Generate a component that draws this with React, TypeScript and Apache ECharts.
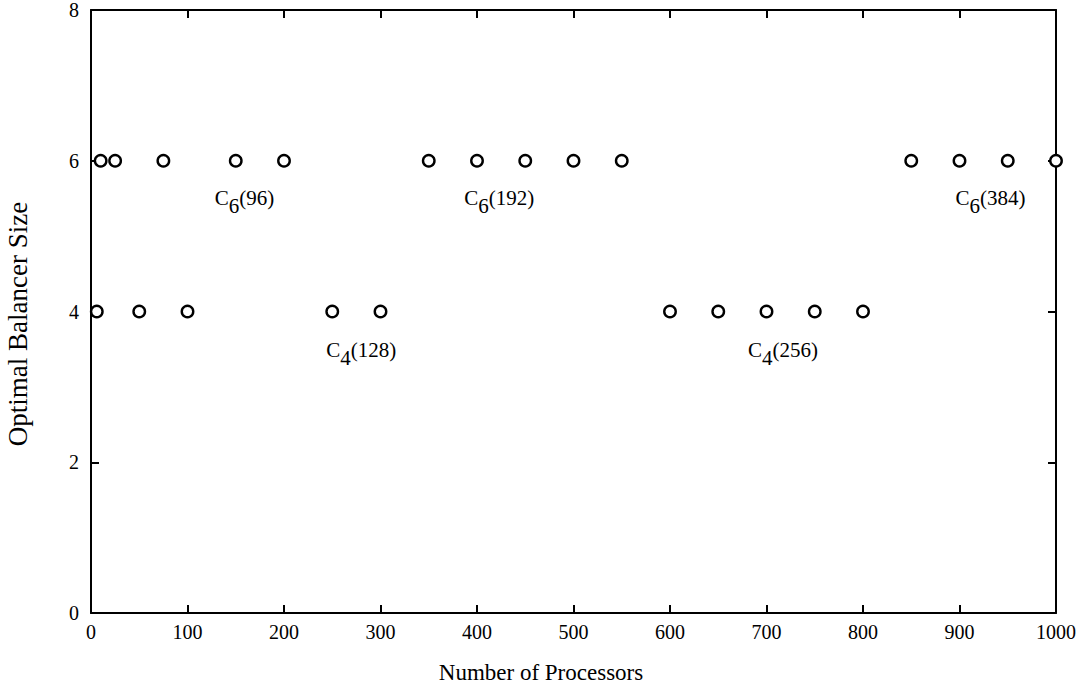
import React, { useEffect, useRef } from "react";
import * as echarts from "echarts";

const processors = [6, 10, 25, 50, 75, 100, 150, 200, 250, 300, 350, 400, 450, 500, 550, 600, 650, 700, 750, 800, 850, 900, 950, 1000];
const balancerSize = [4, 6, 6, 4, 6, 4, 6, 6, 4, 4, 6, 6, 6, 6, 6, 4, 4, 4, 4, 4, 6, 6, 6, 6];

const annotationNames = ["C", "C", "C", "C", "C"];
const annotationSubs = ["6", "4", "6", "4", "6"];
const annotationArgs = ["(96)", "(128)", "(192)", "(256)", "(384)"];
const annotationX = [159, 280, 423, 717, 932];
const annotationY = [5.5, 3.49, 5.5, 3.49, 5.5];

const FONT = "'Liberation Serif', 'Times New Roman', serif";
const ANN_SIZE = 21;

const mkLine = () => ({ show: true, onZero: false, lineStyle: { color: "#000", width: 2 } });
const mkTick = () => ({ show: true, inside: true, length: 8, lineStyle: { color: "#000", width: 2 } });

function measure(text: string, size: number): number {
  const c = document.createElement("canvas").getContext("2d");
  if (!c) return text.length * size * 0.5;
  c.font = `${size}px ${FONT}`;
  return c.measureText(text).width;
}

export default function App() {
  const ref = useRef<HTMLDivElement>(null);
  useEffect(() => {
    if (!ref.current) return;
    const chart = echarts.init(ref.current, undefined, { renderer: "svg" });
    chart.setOption({
      animation: false,
      backgroundColor: "#fff",
      grid: { left: 91, right: 25, top: 7, bottom: 72, containLabel: false },
      xAxis: [
        {
          type: "value", min: 0, max: 1000, interval: 100, position: "bottom",
          axisLine: mkLine(), axisTick: mkTick(), splitLine: { show: false },
          axisLabel: { color: "#000", fontFamily: FONT, fontSize: 20, margin: 9, formatter: (v: number) => String(v) },
        },
        {
          type: "value", min: 0, max: 1000, interval: 100, position: "top",
          axisLine: mkLine(), axisTick: mkTick(), splitLine: { show: false }, axisLabel: { show: false },
        },
      ],
      yAxis: [
        {
          type: "value", min: 0, max: 8, interval: 2, position: "left",
          axisLine: mkLine(), axisTick: mkTick(), splitLine: { show: false },
          axisLabel: { color: "#000", fontFamily: FONT, fontSize: 20, margin: 12, formatter: (v: number) => String(v) },
        },
        {
          type: "value", min: 0, max: 8, interval: 2, position: "right",
          axisLine: mkLine(), axisTick: mkTick(), splitLine: { show: false }, axisLabel: { show: false },
        },
      ],
      series: [
        {
          type: "scatter",
          xAxisIndex: 0, yAxisIndex: 0,
          clip: false,
          symbol: "circle",
          symbolSize: 11.5,
          itemStyle: { color: "#fff", borderColor: "#000", borderWidth: 2.4, opacity: 1 },
          data: processors.map((p, i) => [p, balancerSize[i]]),
          z: 5,
        },
      ],
    });

    const elements: any[] = [
      {
        type: "text", x: 541, y: 672,
        style: { text: "Number of Processors", fontFamily: FONT, fontSize: 23, fill: "#000", align: "center", verticalAlign: "middle" },
      },
      {
        type: "text", x: 18, y: 324, rotation: Math.PI / 2,
        style: { text: "Optimal Balancer Size", fontFamily: FONT, fontSize: 27, fill: "#000", align: "center", verticalAlign: "middle" },
      },
    ];
    annotationX.forEach((ax, i) => {
      const pt = chart.convertToPixel({ xAxisIndex: 0, yAxisIndex: 0 }, [ax, annotationY[i]]) as number[];
      const wN = measure(annotationNames[i], ANN_SIZE);
      const wS = measure(annotationSubs[i], ANN_SIZE);
      const wA = measure(annotationArgs[i], ANN_SIZE);
      const left = pt[0] - (wN + wS + wA) / 2;
      const base = { fontFamily: FONT, fontSize: ANN_SIZE, fill: "#000", align: "left", verticalAlign: "middle" };
      elements.push(
        { type: "text", x: left, y: pt[1], style: { ...base, text: annotationNames[i] } },
        { type: "text", x: left + wN, y: pt[1] + 8, style: { ...base, text: annotationSubs[i] } },
        { type: "text", x: left + wN + wS, y: pt[1], style: { ...base, text: annotationArgs[i] } },
      );
    });
    chart.setOption({ graphic: { elements } });
    return () => chart.dispose();
  }, []);
  return <div ref={ref} style={{ position: "fixed", left: 0, top: 0, width: 1081, height: 685 }} />;
}
